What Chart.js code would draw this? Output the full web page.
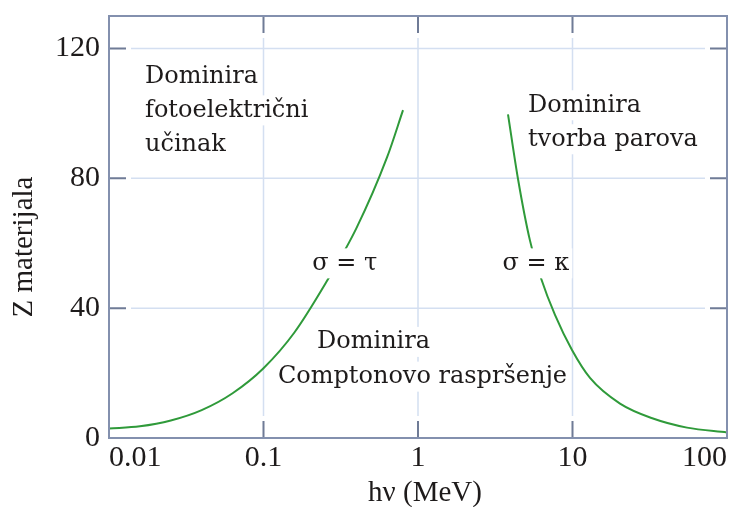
<!DOCTYPE html>
<html><head><meta charset="utf-8">
<script src="https://cdn.jsdelivr.net/npm/chart.js@4/dist/chart.umd.min.js"></script>
<style>html,body{margin:0;padding:0;background:#fff;}#wrap{width:733px;height:507px;}</style>
</head><body><div id="wrap"><canvas id="c" width="733" height="507"></canvas></div>
<script>
// ---- data ----
const photoEnergy = [0.01, 0.01585, 0.02512, 0.03981, 0.0631, 0.1, 0.1585, 0.2512, 0.3981, 0.631, 0.80];
const photoZ      = [2.9, 3.6, 5.4, 8.6, 13.8, 21.5, 32.5, 47.5, 64.5, 86.5, 101];
const pairEnergy  = [3.824, 4.439, 5.308, 6.254, 7.703, 9.926, 12.98, 20.30, 33.19, 55.10, 100];
const pairZ       = [99.7, 79.8, 60.8, 49.2, 37.9, 27.1, 18.5, 10.6, 6.0, 3.2, 1.7];
const xTicks = [0.01, 0.1, 1, 10, 100];
const yTicks = [0, 40, 80, 120];
const xTitle = 'hν (MeV)';
const yTitle = 'Z materijala';
const labelPhoto   = ['Dominira', 'fotoelektrični', 'učinak'];
const labelPair    = ['Dominira', 'tvorba parova'];
const labelCompton1 = ['Dominira'];
const labelCompton2 = ['Comptonovo raspršenje'];
const labelTau   = ['σ = τ'];
const labelKappa = ['σ = κ'];

const GREEN = '#2f9a3a';
const GRID = '#d4dff1';
const FRAME = '#8390ae';
const TICKC = '#6f7b96';
const TEXT = '#1e1b1b';
const ANN_FONT = '24px "DejaVu Serif"';
const AX_FONT = '29px "Liberation Serif"';

const frame = {
  id: 'frame',
  beforeDatasetsDraw(chart) {
    const {ctx, chartArea: a, scales: {x, y}} = chart;
    const TL = 17, GAP = 5;
    ctx.save();
    ctx.strokeStyle = GRID; ctx.lineWidth = 1.5;
    ctx.beginPath();
    xTicks.forEach(v => { const p = x.getPixelForValue(v); if (p <= a.left + 2 || p >= a.right - 2) return;
      ctx.moveTo(p, a.top + TL + GAP); ctx.lineTo(p, a.bottom - TL - GAP); });
    yTicks.forEach(v => { const p = y.getPixelForValue(v); if (p >= a.bottom - 2 || p <= a.top + 2) return;
      ctx.moveTo(a.left + TL + GAP, p); ctx.lineTo(a.right - TL - GAP, p); });
    ctx.stroke();
    ctx.restore();
  },
  afterDatasetsDraw(chart, args, opts) {
    const {ctx, chartArea: a, scales: {x, y}} = chart;
    const TL = 17;
    ctx.save();
    ctx.font = ANN_FONT; ctx.textBaseline = 'middle';
    opts.labels.forEach(l => {
      let px = x.getPixelForValue(l.x), py = y.getPixelForValue(l.y);
      l.lines.forEach((t, i) => {
        const w = ctx.measureText(t).width;
        const lx = l.align === 'center' ? px - w / 2 : px;
        const ly = py + i * 34;
        ctx.fillStyle = '#fff';
        ctx.fillRect(lx - 3, ly - 15, w + 6, 30);
        ctx.fillStyle = TEXT;
        ctx.textAlign = 'left';
        ctx.fillText(t, lx, ly);
      });
    });
    ctx.strokeStyle = TICKC; ctx.lineWidth = 2;
    ctx.beginPath();
    xTicks.forEach(v => { const p = x.getPixelForValue(v); if (p <= a.left + 2 || p >= a.right - 2) return;
      ctx.moveTo(p, a.bottom); ctx.lineTo(p, a.bottom - TL);
      ctx.moveTo(p, a.top); ctx.lineTo(p, a.top + TL); });
    yTicks.forEach(v => { const p = y.getPixelForValue(v); if (p >= a.bottom - 2 || p <= a.top + 2) return;
      ctx.moveTo(a.left, p); ctx.lineTo(a.left + TL, p);
      ctx.moveTo(a.right, p); ctx.lineTo(a.right - TL, p); });
    ctx.stroke();
    ctx.strokeStyle = FRAME; ctx.lineWidth = 2;
    ctx.strokeRect(a.left, a.top, a.right - a.left, a.bottom - a.top);
    ctx.fillStyle = TEXT; ctx.font = AX_FONT; ctx.textAlign = 'center'; ctx.textBaseline = 'middle';
    ctx.fillText(xTitle, (a.left + a.right) / 2 + 7, 493);
    ctx.translate(24, (a.top + a.bottom) / 2 + 20);
    ctx.rotate(-Math.PI / 2);
    ctx.fillText(yTitle, 0, 0);
    ctx.restore();
  }
};

new Chart(document.getElementById('c'), {
  type: 'scatter',
  data: {
    datasets: [
      {data: photoEnergy.map((e, i) => ({x: e, y: photoZ[i]})), showLine: true, borderColor: GREEN, borderWidth: 2, pointRadius: 0, cubicInterpolationMode: 'monotone'},
      {data: pairEnergy.map((e, i) => ({x: e, y: pairZ[i]})), showLine: true, borderColor: GREEN, borderWidth: 2, pointRadius: 0, cubicInterpolationMode: 'monotone'}
    ]
  },
  options: {
    responsive: false, animation: false, devicePixelRatio: 1,
    layout: {padding: {top: 16, right: 6, left: 0, bottom: 0}},
    plugins: {legend: {display: false}, tooltip: {enabled: false},
      frame: {labels: [
        {lines: labelPhoto, x: 0.0171, y: 111.4, align: 'left'},
        {lines: labelPair, x: 5.15, y: 102.5, align: 'left'},
        {lines: labelCompton1, x: 0.222, y: 29.6, align: 'left'},
        {lines: labelCompton2, x: 0.124, y: 18.9, align: 'left'},
        {lines: labelTau, x: 0.336, y: 53.8, align: 'center'},
        {lines: labelKappa, x: 5.8, y: 53.8, align: 'center'}
      ]}},
    scales: {
      x: {type: 'logarithmic', min: 0.01, max: 100,
        afterBuildTicks: s => { s.ticks = xTicks.map(v => ({value: v})); },
        afterFit: s => { s.height = 69; s.paddingLeft = 0; s.paddingRight = 0; },
        grid: {display: false, drawTicks: false}, border: {display: false},
        ticks: {align: 'inner', padding: 2, color: TEXT, font: {family: 'Liberation Serif', size: 30}, maxRotation: 0,
          callback: v => String(v)}},
      y: {type: 'linear', min: 0, max: 130,
        afterBuildTicks: s => { s.ticks = yTicks.map(v => ({value: v})); },
        afterFit: s => { s.width = 109; s.paddingTop = 0; s.paddingBottom = 0; },
        grid: {display: false, drawTicks: false}, border: {display: false},
        ticks: {padding: 9, color: TEXT, font: {family: 'Liberation Serif', size: 30}}}
    }
  },
  plugins: [frame]
});
</script></body></html>
